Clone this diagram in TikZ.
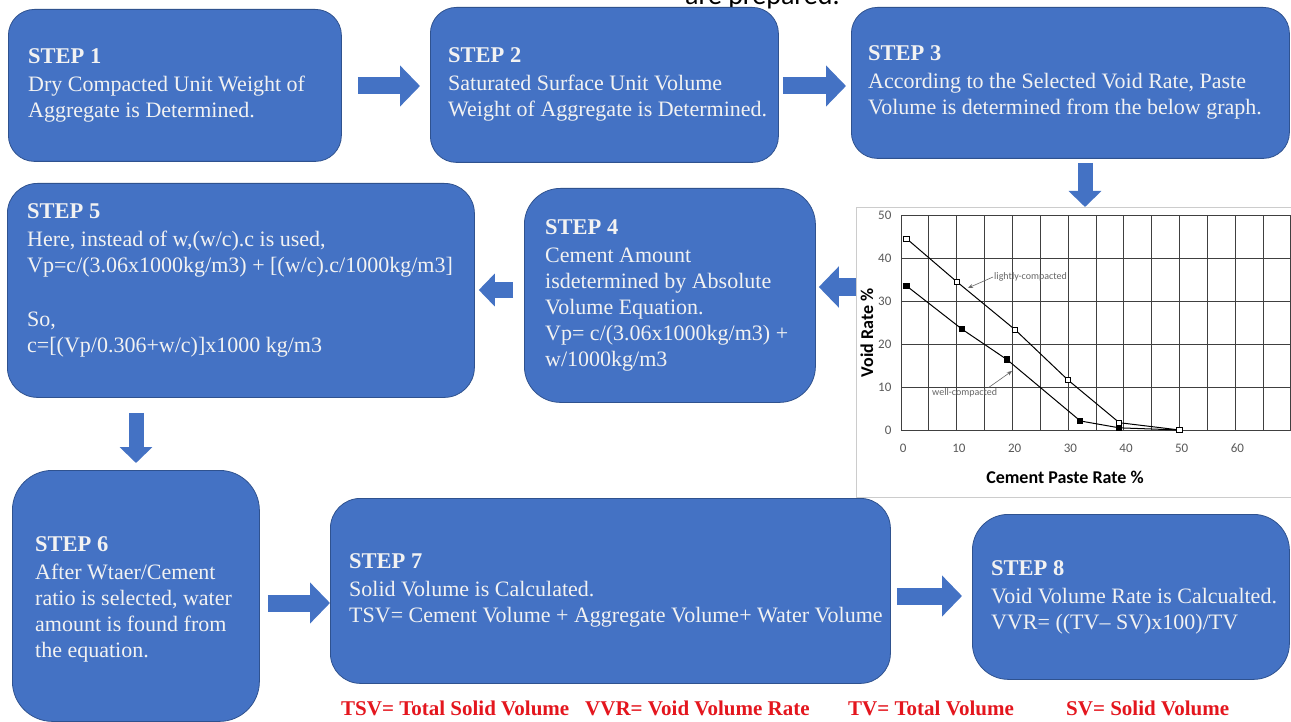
\documentclass[tikz,border=0pt]{standalone}
\usepackage{fontspec}
\setmainfont{Liberation Serif}
\newfontfamily\chartfont{Carlito}
\usetikzlibrary{arrows.meta,plotmarks}
\definecolor{boxblue}{RGB}{68,114,196}
\definecolor{boxedge}{RGB}{47,82,143}
\definecolor{notered}{RGB}{228,22,30}
\tikzset{
  stepbox/.style={draw=boxedge, fill=boxblue, line width=0.8pt, rounded corners=26pt, anchor=north west, inner sep=0pt},
  steptext/.style={text=white!95!black, align=left, anchor=west, inner sep=0pt, font=\fontsize{22}{26}\selectfont},
  bigarrow/.style={boxblue, line width=17pt, -{Triangle[width=40pt,length=20pt]}},
  smallarrow/.style={boxblue, line width=15pt, -{Triangle[width=32pt,length=16pt]}},
  gridline/.style={black!75, line width=0.9pt},
  ticklabel/.style={font=\chartfont\fontsize{13}{13}\selectfont, text=black!65, inner sep=0pt},
  axistitle/.style={font=\chartfont\bfseries\fontsize{18}{18}\selectfont, inner sep=0pt},
  notetext/.style={font=\chartfont\fontsize{10}{10}\selectfont, text=black!60, inner sep=1pt, anchor=west},
  annarrow/.style={black!60, line width=0.6pt, -{Stealth[length=5pt,width=4pt]}},
  curve/.style={black, line width=1pt, mark size=2.6pt},
  keytext/.style={font=\bfseries\fontsize{21}{21}\selectfont, text=notered, anchor=west, inner sep=0pt},
}
\newcommand{\stephead}[1]{{\bfseries\fontsize{22.5}{26}\selectfont #1}}
\begin{document}
\begin{tikzpicture}[x=1pt,y=-1pt]
\clip (0,0) rectangle (1291,722);
\fill[white] (0,0) rectangle (1291,722);

% caption cut by the top edge
\node[font=\chartfont\fontsize{28}{28}\selectfont, anchor=base west, inner sep=0pt] (cap) at (685,5) {are prepared.};

% step boxes
\node[stepbox, minimum width=333pt, minimum height=152pt] (s1) at (8,9) {};
\node[stepbox, minimum width=348pt, minimum height=155pt] (s2) at (430,7) {};
\node[stepbox, minimum width=438pt, minimum height=151pt] (s3) at (851,7) {};
\node[stepbox, minimum width=291pt, minimum height=214pt, rounded corners=36pt] (s4) at (524,188) {};
\node[stepbox, minimum width=467pt, minimum height=214pt, rounded corners=30pt] (s5) at (7,183) {};
\node[stepbox, minimum width=247pt, minimum height=251pt, rounded corners=40pt] (s6) at (12,470) {};
\node[stepbox, minimum width=560pt, minimum height=185pt, rounded corners=30pt] (s7) at (330,498) {};
\node[stepbox, minimum width=317pt, minimum height=165pt, rounded corners=36pt] (s8) at (972,514) {};

\node[steptext] (t1) at ([xshift=20pt]s1.west) {\stephead{STEP 1}\\[2pt] Dry Compacted Unit Weight of\\ Aggregate is Determined.};
\node[steptext] (t2) at ([xshift=18pt]s2.west) {\stephead{STEP 2}\\[2pt] Saturated Surface Unit Volume\\ Weight of Aggregate is Determined.};
\node[steptext] (t3) at ([xshift=17pt]s3.west) {\stephead{STEP 3}\\[2pt] According to the Selected Void Rate, Paste\\ Volume is determined from the below graph.};
\node[steptext] (t4) at ([xshift=21pt]s4.west) {\stephead{STEP 4}\\[2pt] Cement Amount\\ isdetermined by Absolute\\ Volume Equation.\\ Vp= c/(3.06x1000kg/m3) +\\ w/1000kg/m3};
\node[steptext] (t5) at ([xshift=20pt,yshift=10pt]s5.west) {\stephead{STEP 5}\\[2pt] Here, instead of w,(w/c).c is used,\\ Vp=c/(3.06x1000kg/m3) + [(w/c).c/1000kg/m3]\\[28pt] So,\\ c=[(Vp/0.306+w/c)]x1000 kg/m3};
\node[steptext] (t6) at ([xshift=23pt,yshift=-3pt]s6.west) {\stephead{STEP 6}\\[2pt] After Wtaer/Cement\\ ratio is selected, water\\ amount is found from\\ the equation.};
\node[steptext] (t7) at ([xshift=19pt]s7.west) {\stephead{STEP 7}\\[2pt] Solid Volume is Calculated.\\ TSV= Cement Volume + Aggregate Volume+ Water Volume};
\node[steptext] (t8) at ([xshift=19pt]s8.west) {\stephead{STEP 8}\\[2pt] Void Volume Rate is Calcualted.\\ VVR= ((TV– SV)x100)/TV};

% graph
\node[draw=black!20, fill=white, minimum width=436pt, minimum height=290pt, anchor=north west, inner sep=0pt] (chart) at (856,207) {};
\begin{scope}[shift={(901,430)}, x=5.57pt, y=4.3pt]
\foreach \gx in {0,5,...,70} \draw[gridline] (\gx,0) -- (\gx,50);
\foreach \gy in {0,10,...,50} \draw[gridline] (0,\gy) -- (70,\gy);
\foreach \gy in {0,10,...,50} \node[ticklabel, anchor=east] (ytick\gy) at (-1.7,\gy) {\gy};
\foreach \gx in {0,10,...,60} \node[ticklabel] (xtick\gx) at (\gx+0.4,-4.2) {\gx};
\draw[curve, mark=square*, mark indices={1,2,3,4,5}] plot coordinates {(1,33.5) (11,23.4) (19,16.4) (32.2,2.1) (39.2,0.5) (50,0)};
\draw[curve, mark=square*, mark options={fill=white}] plot coordinates {(1,44.5) (10,34.5) (20.5,23.3) (30,11.6) (39.2,1.7) (50,0)};
\end{scope}
\node[axistitle, rotate=90] (ytitle) at (867,333) {Void Rate \%};
\node[axistitle] (xtitle) at (1065,477) {Cement Paste Rate \%};
\node[notetext] (lightlbl) at (993,277) {lightly-compacted};
\coordinate (lightpt) at (968,288);
\draw[annarrow] (lightlbl.west) -- (lightpt);
\node[notetext] (welllbl) at (931,393) {well-compacted};
\coordinate (wellpt) at (1012,371);
\draw[annarrow] ([xshift=24pt]welllbl.north) -- (wellpt);

% block arrows
\draw[bigarrow, shorten <=16pt, shorten >=10pt] (s1.east |- 0,86) -- (s2.west |- 0,86);
\draw[bigarrow, shorten <=4pt, shorten >=5pt] (s2.east |- 0,86) -- (s3.west |- 0,86);
\draw[smallarrow, shorten <=4pt] (s3.south -| 1085,0) -- (chart.north -| 1085,0);
\draw[bigarrow, shorten >=3pt] (chart.west |- 0,287) -- (s4.east |- 0,287);
\draw[smallarrow, shorten <=11pt, shorten >=4pt] (s4.west |- 0,290) -- (s5.east |- 0,290);
\draw[smallarrow, shorten <=15pt, shorten >=7pt] (s5.south -| 136,0) -- (s6.north -| 136,0);
\draw[bigarrow, shorten <=8pt] (s6.east |- 0,603) -- (s7.west |- 0,603);
\draw[bigarrow, shorten <=6pt, shorten >=10pt] (s7.east |- 0,596) -- (s8.west |- 0,596);

% abbreviations
\node[keytext] (k1) at (341,708) {TSV= Total Solid Volume};
\node[keytext] (k2) at (585,708) {VVR= Void Volume Rate};
\node[keytext] (k3) at (848,708) {TV= Total Volume};
\node[keytext] (k4) at (1066,708) {SV= Solid Volume};
\end{tikzpicture}
\end{document}
